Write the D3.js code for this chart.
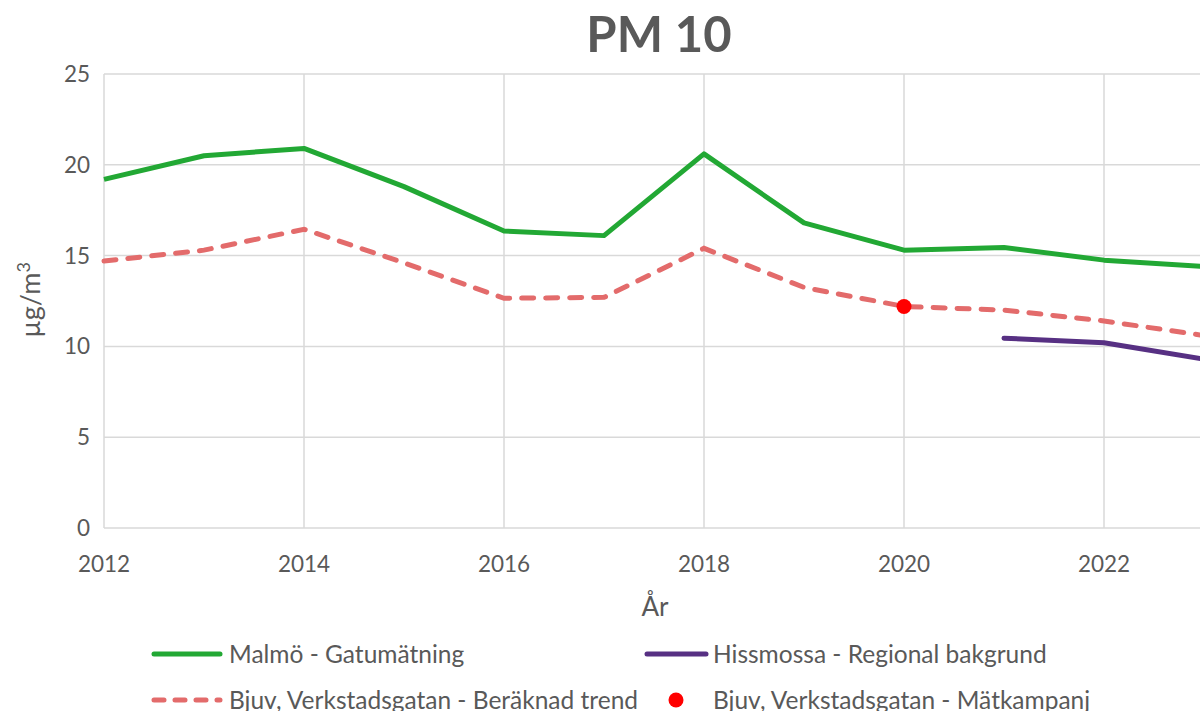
<!DOCTYPE html>
<html>
<head>
<meta charset="utf-8">
<script src="https://cdn.jsdelivr.net/npm/d3@7"></script>
<style>
  body { margin: 0; background: #fff; overflow: hidden; }
  svg { display: block; font-family: Lato, "Open Sans", sans-serif; }
  .grid line { stroke: #d9d9d9; stroke-width: 1.5; }
  .tick-label { fill: #595959; font-size: 22.5px; }
  .legend { fill: #595959; font-size: 24.5px; }
</style>
</head>
<body>
<div id="chart"></div>
<script>
// years and series
var years = [2012, 2013, 2014, 2015, 2016, 2017, 2018, 2019, 2020, 2021, 2022, 2023];
var malmo = [19.2, 20.5, 20.9, 18.8, 16.35, 16.1, 20.6, 16.8, 15.3, 15.45, 14.75, 14.4];
var bjuvTrend = [14.7, 15.3, 16.45, 14.6, 12.65, 12.7, 15.4, 13.25, 12.2, 12.0, 11.4, 10.6];
var hissYears = [2021, 2022, 2023];
var hissmossa = [10.45, 10.2, 9.3];
var campaignYears = [2020];
var campaign = [12.2];

var xTicks = [2012, 2014, 2016, 2018, 2020, 2022];
var yTicks = [0, 5, 10, 15, 20, 25];

var W = 1200, H = 711;
var margin = { top: 74, left: 104, bottom: 183 };
var plotH = H - margin.top - margin.bottom;

var svg = d3.select('#chart').append('svg')
  .attr('width', W)
  .attr('height', H);

var x = d3.scaleLinear().domain([2012, 2024]).range([margin.left, margin.left + 1200]);
var y = d3.scaleLinear().domain([0, 25]).range([margin.top + plotH, margin.top]);

//GRID
svg.append('g')
  .attr('class', 'grid')
  .selectAll('line')
  .data(yTicks)
  .enter().append('line')
    .attr('x1', x(2012)).attr('x2', W)
    .attr('y1', function(d) { return y(d); })
    .attr('y2', function(d) { return y(d); });

svg.append('g')
  .attr('class', 'grid')
  .selectAll('line')
  .data(xTicks)
  .enter().append('line')
    .attr('x1', function(d) { return x(d); })
    .attr('x2', function(d) { return x(d); })
    .attr('y1', y(25)).attr('y2', y(0));

//TICK LABELS
svg.append('g').selectAll('text')
  .data(yTicks)
  .enter().append('text')
    .attr('class', 'tick-label')
    .attr('x', x(2012) - 14)
    .attr('y', function(d) { return y(d) + 8; })
    .attr('text-anchor', 'end')
    .text(function(d) { return d; });

svg.append('g').selectAll('text')
  .data(xTicks)
  .enter().append('text')
    .attr('class', 'tick-label')
    .attr('x', function(d) { return x(d); })
    .attr('y', y(0) + 44)
    .attr('text-anchor', 'middle')
    .text(function(d) { return d; });

//TITLES
svg.append('text')
  .attr('x', 659).attr('y', 52)
  .attr('text-anchor', 'middle')
  .style('font-size', '49px')
  .style('font-weight', 'bold')
  .style('fill', '#595959')
  .text('PM 10');

svg.append('text')
  .attr('x', 655).attr('y', 616)
  .attr('text-anchor', 'middle')
  .style('font-size', '26px')
  .style('fill', '#595959')
  .text('År');

var yt = svg.append('text')
  .attr('transform', 'translate(40,' + 300 + ') rotate(-90)')
  .attr('text-anchor', 'middle')
  .style('font-size', '27px')
  .style('fill', '#595959');
yt.append('tspan').text('µg/m');
yt.append('tspan').attr('dy', -10).style('font-size', '18px').text('3');

//LINES
var line = d3.line()
  .x(function(d) { return x(d[0]); })
  .y(function(d) { return y(d[1]); });

svg.append('path')
  .datum(d3.zip(years, bjuvTrend))
  .attr('d', line)
  .attr('fill', 'none')
  .attr('stroke', '#e36b6b')
  .attr('stroke-width', 5)
  .attr('stroke-linecap', 'round')
  .attr('stroke-dasharray', '12,12');

svg.append('path')
  .datum(d3.zip(years, malmo))
  .attr('d', line)
  .attr('fill', 'none')
  .attr('stroke', '#22a834')
  .attr('stroke-width', 5)
  .attr('stroke-linejoin', 'round');

svg.append('path')
  .datum(d3.zip(hissYears, hissmossa))
  .attr('d', line)
  .attr('fill', 'none')
  .attr('stroke', '#573083')
  .attr('stroke-width', 5)
  .attr('stroke-linecap', 'round')
  .attr('stroke-linejoin', 'round');

svg.selectAll('.dot')
  .data(d3.zip(campaignYears, campaign))
  .enter().append('circle')
    .attr('cx', function(d) { return x(d[0]); })
    .attr('cy', function(d) { return y(d[1]); })
    .attr('r', 7.5)
    .attr('fill', '#ff0000');

//LEGEND
var leg = svg.append('g');
function legendLine(x1, x2, yy, color, dash) {
  leg.append('line')
    .attr('x1', x1).attr('x2', x2).attr('y1', yy).attr('y2', yy)
    .attr('stroke', color).attr('stroke-width', 5)
    .attr('stroke-linecap', 'round')
    .attr('stroke-dasharray', dash || null);
}
function legendText(xx, yy, t) {
  leg.append('text').attr('class', 'legend')
    .attr('x', xx).attr('y', yy + 9).text(t);
}
legendLine(154, 220, 654, '#22a834');
legendText(229, 654, 'Malmö - Gatumätning');
legendLine(647, 706, 654, '#573083');
legendText(713, 654, 'Hissmossa - Regional bakgrund');
legendLine(154, 220, 700, '#e36b6b', '10,11');
legendText(229, 700, 'Bjuv, Verkstadsgatan - Beräknad trend');
leg.append('circle').attr('cx', 676).attr('cy', 700).attr('r', 7.5).attr('fill', '#ff0000');
legendText(713, 700, 'Bjuv, Verkstadsgatan - Mätkampanj');
</script>
</body>
</html>
